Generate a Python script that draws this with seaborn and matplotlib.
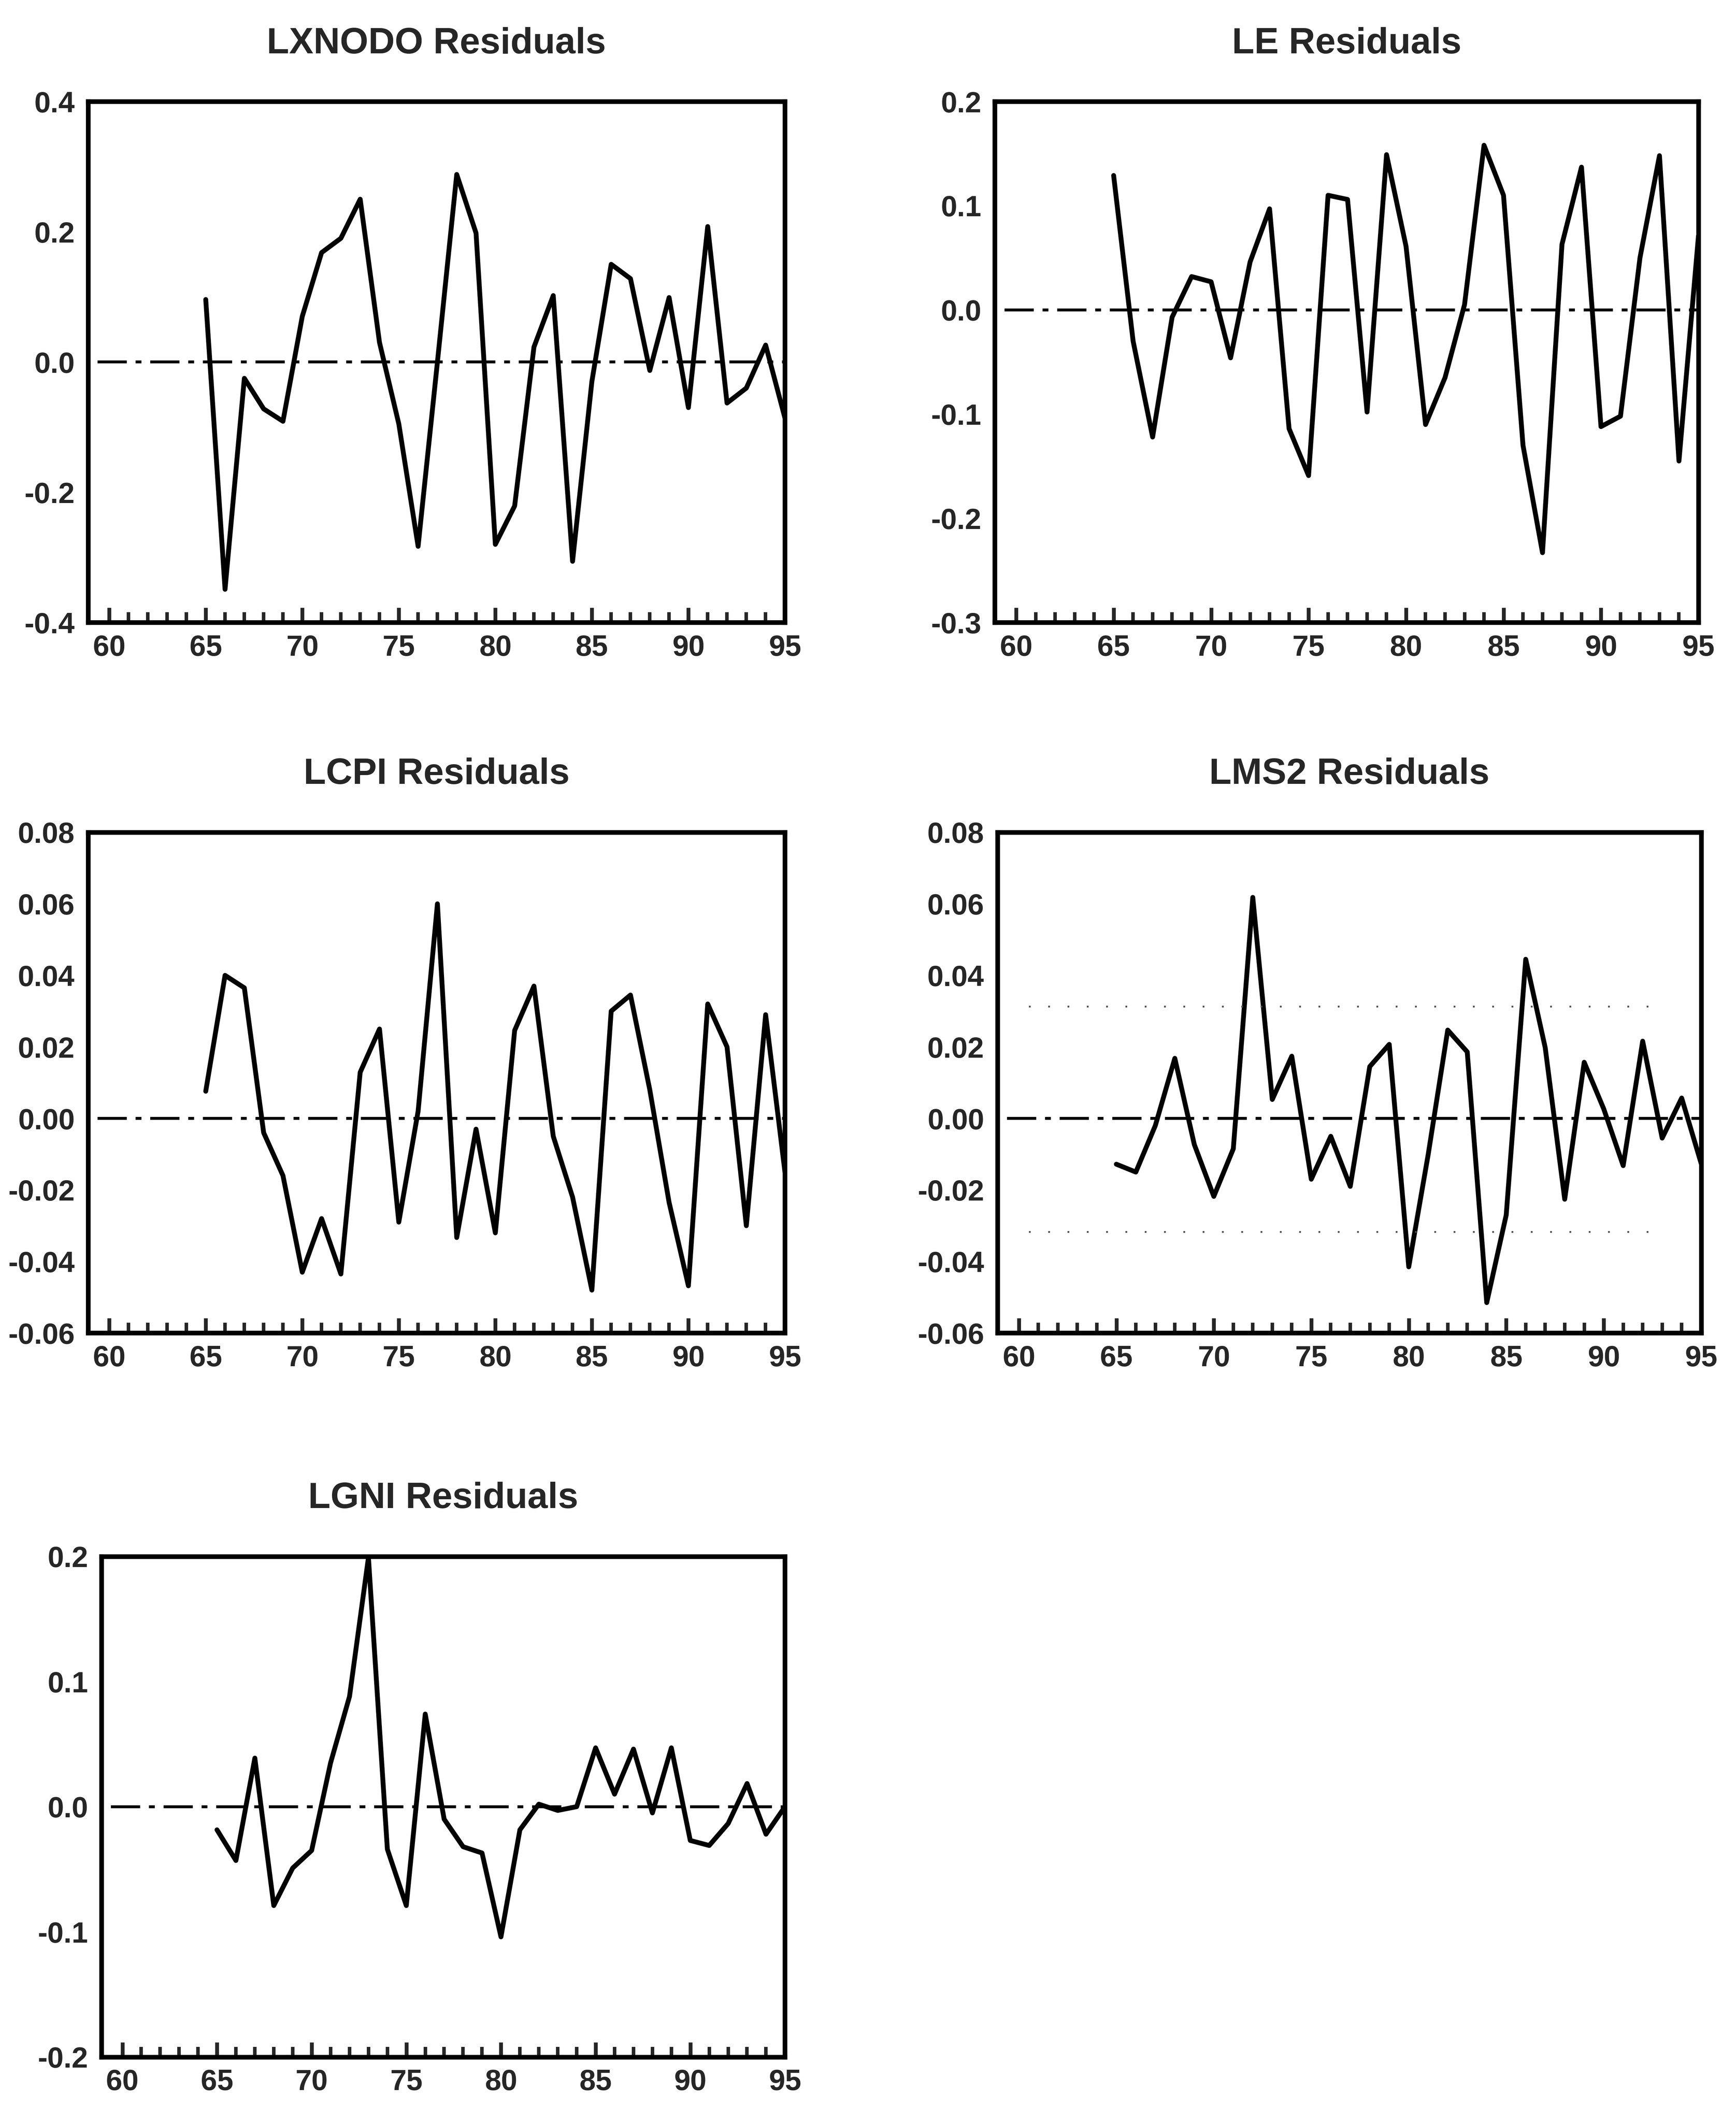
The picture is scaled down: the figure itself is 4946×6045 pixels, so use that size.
import numpy as np
import pandas as pd
import matplotlib.pyplot as plt
import seaborn as sns

# -----------------------------
# DATA
# -----------------------------
years = list(range(65, 96))

lxnodo = [0.096, -0.349, -0.025, -0.072, -0.091, 0.07, 0.168, 0.19, 0.25, 0.03,
          -0.095, -0.283, 0.0, 0.288, 0.198, -0.28, -0.221, 0.023, 0.102, -0.306,
          -0.03, 0.15, 0.128, -0.013, 0.099, -0.07, 0.208, -0.063, -0.04, 0.026,
          -0.086]

le = [0.129, -0.03, -0.122, -0.007, 0.032, 0.027, -0.046, 0.046, 0.097, -0.114,
      -0.159, 0.11, 0.106, -0.098, 0.149, 0.061, -0.11, -0.065, 0.005, 0.158,
      0.11, -0.13, -0.233, 0.063, 0.137, -0.112, -0.102, 0.05, 0.148, -0.145,
      0.071]

lcpi = [0.0076, 0.040, 0.0365, -0.004, -0.016, -0.043, -0.028, -0.0435, 0.0129, 0.025,
        -0.029, 0.002, 0.060, -0.0333, -0.003, -0.032, 0.0246, 0.037, -0.005, -0.022,
        -0.048, 0.030, 0.0345, 0.008, -0.0235, -0.0468, 0.032, 0.020, -0.030, 0.029,
        -0.015]

lms2 = [-0.0128, -0.015, -0.002, 0.0168, -0.0073, -0.0218, -0.0085, 0.0618, 0.0053, 0.0174,
        -0.017, -0.005, -0.019, 0.0145, 0.0207, -0.0415, -0.01, 0.0247, 0.0186, -0.0515,
        -0.027, 0.0445, 0.0198, -0.0226, 0.0157, 0.0027, -0.0132, 0.0216, -0.0055, 0.0057,
        -0.0126]

lgni = [-0.0185, -0.043, 0.0388, -0.079, -0.049, -0.035, 0.035, 0.088, 0.199, -0.034,
        -0.079, 0.074, -0.01, -0.032, -0.037, -0.104, -0.0185, 0.002, -0.003, 0.0,
        0.047, 0.010, 0.046, -0.005, 0.047, -0.027, -0.031, -0.0135, 0.0185, -0.022,
        0.0]

titles = ["LXNODO Residuals", "LE Residuals", "LCPI Residuals",
          "LMS2 Residuals", "LGNI Residuals"]
yticks_list = [
    [-0.4, -0.2, 0.0, 0.2, 0.4],
    [-0.3, -0.2, -0.1, 0.0, 0.1, 0.2],
    [-0.06, -0.04, -0.02, 0.0, 0.02, 0.04, 0.06, 0.08],
    [-0.06, -0.04, -0.02, 0.0, 0.02, 0.04, 0.06, 0.08],
    [-0.2, -0.1, 0.0, 0.1, 0.2],
]
ylabel_fmt = ["{:.1f}", "{:.1f}", "{:.2f}", "{:.2f}", "{:.1f}"]
xticks = [60, 65, 70, 75, 80, 85, 90, 95]
lms2_band = [-0.0317, 0.0313]

series = [lxnodo, le, lcpi, lms2, lgni]

# -----------------------------
# STYLE
# -----------------------------
sns.set_style("white")
plt.rcParams["font.family"] = ["Liberation Sans", "DejaVu Sans"]

W, H = 1283, 1568
# axes boxes in reference pixels: left, right, top, bottom
boxes = [
    (65, 580, 75, 460),
    (735, 1255, 75, 460),
    (65, 580, 615, 985),
    (737, 1257, 615, 985),
    (75, 580, 1150, 1520),
]

fig = plt.figure(figsize=(16.49, 20.15), dpi=300)

for i, (vals, title) in enumerate(zip(series, titles)):
    l, r, t, b = boxes[i]
    ax = fig.add_axes([l / W, 1 - b / H, (r - l) / W, (b - t) / H])

    df = pd.DataFrame({"year": years, "resid": vals})
    sns.lineplot(data=df, x="year", y="resid", ax=ax, color="black",
                 linewidth=3.3, estimator=None)

    # zero reference line
    ax.plot([59.4, 95], [0, 0], color="black", linewidth=2.0,
            linestyle=(0, (10, 3, 2, 3)))

    if i == 3:
        for lev in lms2_band:
            ax.plot([60.5, 93], [lev, lev], color="0.3", linewidth=1.2,
                    linestyle=(0, (1, 10)))

    yt = yticks_list[i]
    ax.set_ylim(yt[0], yt[-1])
    ax.set_xlim(58.9, 95)
    ax.set_yticks(yt)
    ax.set_yticklabels([ylabel_fmt[i].format(v) for v in yt])
    ax.set_xticks(xticks)
    ax.set_xticklabels([str(x) for x in xticks])
    ax.set_xticks(range(60, 96), minor=True)

    ax.tick_params(axis="x", which="major", direction="in", length=10,
                   width=2.6, pad=8, labelsize=20, bottom=True)
    ax.tick_params(axis="x", which="minor", direction="in", length=7,
                   width=2.4, bottom=True)
    ax.tick_params(axis="y", which="major", direction="in", length=0,
                   pad=9, labelsize=20, left=True)
    for lab in ax.get_xticklabels() + ax.get_yticklabels():
        lab.set_fontweight("bold")

    for sp in ax.spines.values():
        sp.set_visible(True)
        sp.set_color("black")
        sp.set_linewidth(3.2)

    ax.set_xlabel("")
    ax.set_ylabel("")
    ax.set_title(title, fontsize=25, fontweight="bold", pad=33)

fig.savefig("out.png", dpi=300, facecolor="white")
